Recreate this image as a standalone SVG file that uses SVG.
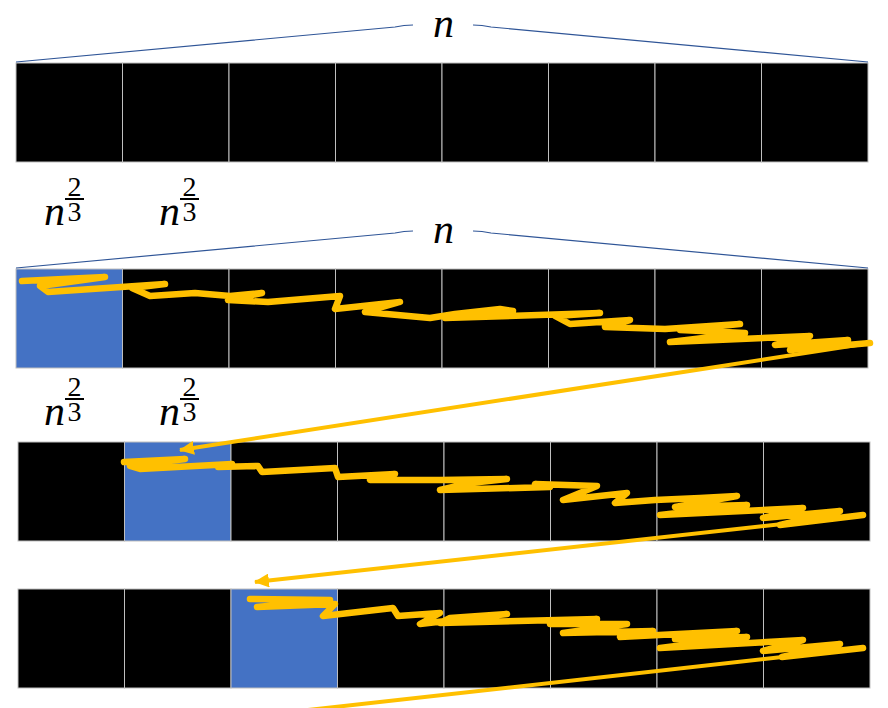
<svg xmlns="http://www.w3.org/2000/svg" width="888" height="708" viewBox="0 0 888 708">
<style>
.cell{fill:#000;stroke:#BFBFBF;stroke-width:1}
.blue{fill:#4472C4;stroke:#BFBFBF;stroke-width:1}
.brace{fill:none;stroke:#2F5597;stroke-width:1.2}
.nv{font-family:"Liberation Serif",serif;font-style:italic;font-size:42px;fill:#000}
.fr{font-family:"Liberation Serif",serif;font-size:28px;fill:#000;text-anchor:middle}
.bar{stroke:#000;stroke-width:2}
.scrib{fill:none;stroke:#FFC000;stroke-width:6.5;stroke-linejoin:round;stroke-linecap:round}
.ret{fill:none;stroke:#FFC000;stroke-width:4}
</style>
<defs>
<marker id="ah" markerUnits="userSpaceOnUse" markerWidth="16" markerHeight="14" refX="14" refY="7" orient="auto">
<path d="M0,0 L15,7 L0,14 Z" fill="#FFC000"/>
</marker>
<g id="fracLabel">
<text class="nv" x="0" y="0">n</text>
<text class="fr" x="30.5" y="-29">2</text>
<line class="bar" x1="21" y1="-26" x2="40" y2="-26"/>
<text class="fr" x="30.5" y="-4">3</text>
</g>
</defs>

<g id="row1">
<rect class="cell" x="16" y="63" width="106.5" height="99"/>
<rect class="cell" x="122.5" y="63" width="106.5" height="99"/>
<rect class="cell" x="229" y="63" width="106.5" height="99"/>
<rect class="cell" x="335.5" y="63" width="106.5" height="99"/>
<rect class="cell" x="442" y="63" width="106.5" height="99"/>
<rect class="cell" x="548.5" y="63" width="106.5" height="99"/>
<rect class="cell" x="655" y="63" width="106.5" height="99"/>
<rect class="cell" x="761.5" y="63" width="106.5" height="99"/>
</g>
<g id="brace1">
<path class="brace" d="M16,62 L395,27 Q404,25 413,25"/>
<path class="brace" d="M473,25 Q482,25 491,27 L868,62"/>
<text class="nv" x="433" y="37">n</text>
</g>
<g id="labels1">
<use href="#fracLabel" x="44" y="225"/>
<use href="#fracLabel" x="159" y="225"/>
</g>

<g id="row2">
<rect class="blue" x="16" y="269" width="106.5" height="99"/>
<rect class="cell" x="122.5" y="269" width="106.5" height="99"/>
<rect class="cell" x="229" y="269" width="106.5" height="99"/>
<rect class="cell" x="335.5" y="269" width="106.5" height="99"/>
<rect class="cell" x="442" y="269" width="106.5" height="99"/>
<rect class="cell" x="548.5" y="269" width="106.5" height="99"/>
<rect class="cell" x="655" y="269" width="106.5" height="99"/>
<rect class="cell" x="761.5" y="269" width="106.5" height="99"/>
</g>
<g id="brace2">
<path class="brace" d="M16,268 L395,233 Q404,231 413,231"/>
<path class="brace" d="M473,231 Q482,231 491,233 L868,268"/>
<text class="nv" x="433" y="243">n</text>
</g>
<g id="labels2">
<use href="#fracLabel" x="44" y="425"/>
<use href="#fracLabel" x="159" y="425"/>
</g>

<g id="row3">
<rect class="cell" x="18" y="442" width="106.5" height="99"/>
<rect class="blue" x="124.5" y="442" width="106.5" height="99"/>
<rect class="cell" x="231" y="442" width="106.5" height="99"/>
<rect class="cell" x="337.5" y="442" width="106.5" height="99"/>
<rect class="cell" x="444" y="442" width="106.5" height="99"/>
<rect class="cell" x="550.5" y="442" width="106.5" height="99"/>
<rect class="cell" x="657" y="442" width="106.5" height="99"/>
<rect class="cell" x="763.5" y="442" width="106.5" height="99"/>
</g>

<g id="row4">
<rect class="cell" x="18" y="589" width="106.5" height="99"/>
<rect class="cell" x="124.5" y="589" width="106.5" height="99"/>
<rect class="blue" x="231" y="589" width="106.5" height="99"/>
<rect class="cell" x="337.5" y="589" width="106.5" height="99"/>
<rect class="cell" x="444" y="589" width="106.5" height="99"/>
<rect class="cell" x="550.5" y="589" width="106.5" height="99"/>
<rect class="cell" x="657" y="589" width="106.5" height="99"/>
<rect class="cell" x="763.5" y="589" width="106.5" height="99"/>
</g>

<g id="connectors">
<path class="scrib" d="M22,281 L105,277 L40,286 L48,292 L165,284 L132,288 L150,296 L195,293 L230,296 L262,293 L228,300 L268,302 L340,296 L335,309 L400,302 L365,312 L430,318 L455,314 L500,309 L513,311 L445,318 L600,313 L555,316 L570,324 L630,320 L605,327 L665,329 L740,324 L680,330 L745,333 L670,342 L810,336 L775,345 L848,340 L790,350 L870,343"/>
<path class="ret" d="M870,343 L180,450" marker-end="url(#ah)"/>
<path class="scrib" d="M124,462 L185,459 L130,466 L140,469 L232,464 L218,467 L258,466 L262,472 L335,468 L338,477 L395,474 L370,480 L440,480 L507,479 L470,483 L440,490 L550,487 L535,484 L597,486 L563,500 L627,493 L615,503 L655,500 L700,498 L737,496 L675,507 L747,505 L660,515 L803,508 L763,518 L840,511 L780,525 L863,515"/>
<path class="ret" d="M864,515 L255,582" marker-end="url(#ah)"/>
<path class="scrib" d="M250,599 L330,600 L257,607 L335,604 L323,616 L393,608 L398,616 L440,613 L420,624 L507,614 L450,618 L440,623 L597,619 L550,624 L627,624 L563,633 L653,631 L620,637 L737,631 L675,639 L747,637 L660,648 L803,640 L763,651 L840,644 L782,657 L863,648"/>
<path class="ret" d="M863,648 L290,712"/>
</g>
</svg>
